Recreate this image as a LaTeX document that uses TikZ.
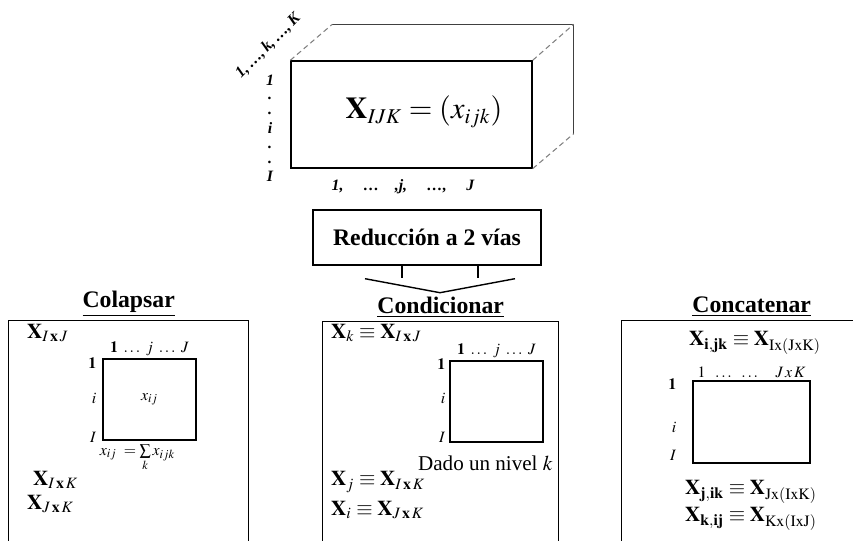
\documentclass[tikz,border=0pt]{standalone}
\usepackage{mathptmx}
\usepackage{fontspec}
\setmainfont{Liberation Serif}
\usetikzlibrary{positioning}

\begin{document}
\begin{tikzpicture}[
  x=0.02cm, y=-0.02cm, % one unit = one pixel of the sketch, y downwards
  edge/.style={draw, line width=0.8pt},
  backedge/.style={draw=black!75, line width=0.6pt},
  hidden/.style={draw=black!50, line width=0.6pt, densely dashed},
  panel/.style={draw, line width=0.8pt, anchor=north west, minimum height=4.8cm, inner sep=0pt},
  matbox/.style={draw, line width=0.8pt, inner sep=0pt, minimum width=1.86cm, minimum height=1.62cm, font=\small},
  paneltitle/.style={font=\fontsize{13.5}{16}\selectfont\bfseries, inner sep=1pt},
  cubelbl/.style={font=\small\bfseries\itshape, inner sep=1pt},
  lbl/.style={font=\small, inner sep=1pt},
  formula/.style={font=\large, inner sep=1pt, anchor=west}
]
\useasboundingbox (0,0) rectangle (853,541);

% --- Top: three-way array ---
\node[edge, minimum width=4.82cm, minimum height=2.14cm, inner sep=0pt] (front) at (411.5,114.5) {};
\node[font=\LARGE] (tensor) at (424,112) {$\mathbf{X}_{IJK}=(x_{ijk})$};

\coordinate (backNW) at ([shift={(42,-36)}]front.north west);
\coordinate (backNE) at ([shift={(41,-36)}]front.north east);
\coordinate (backSE) at ([shift={(41,-35)}]front.south east);
\draw[backedge] (backNW) -- (backNE) -- (backSE);
\draw[hidden] (front.north west) -- (backNW);
\draw[hidden] (front.north east) -- (backNE);
\draw[hidden] (front.south east) -- (backSE);

% row, column and depth indices
\foreach \t/\y in {1/80, ./98, ./113, i/128, ./147, ./162, I/176}
  \node[cubelbl] at (270,\y) {\t};
\node[cubelbl] (cols) at (403,187) {1,\quad\ \ldots\quad ,j,\quad\ \ldots,\quad\ J};
\node[cubelbl, rotate=45] (depth) at (268,46) {1,\,\ldots,\,k,\,\ldots,\,K};

% --- Middle: reduction step ---
\node[edge, minimum width=4.56cm, minimum height=1.1cm, font=\fontsize{13.5}{16}\selectfont\bfseries] (reduc) at (427,237.5) {Reducción a 2 vías};
\coordinate (tip) at ([shift={(13,27)}]reduc.south);
\draw[edge] ([shift={(-25,0)}]reduc.south) -- ++(0,12);
\draw[edge] ([shift={(51,0)}]reduc.south) -- ++(0,12);
\draw[edge] ([shift={(-62,13)}]reduc.south) -- (tip) -- ([shift={(88,13)}]reduc.south);

% --- Bottom: the three panels ---
\node[panel, minimum width=4.8cm] (colBox) at (8,320) {};
\node[panel, minimum width=4.72cm] (condBox) at (322,321) {};
\node[panel, minimum width=5.2cm] (concBox) at (621,320) {};

\node[paneltitle, above=0.5pt of colBox.north] (colTitle) {\underline{Colapsar}};
\node[paneltitle, above=0.5pt of condBox.north] (condTitle) {\underline{Condicionar}};
\node[paneltitle, above=0.5pt of concBox.north] (concTitle) {\underline{Concatenar}};

% Colapsar
\node[formula] at (25,333) {$\mathbf{X}_{I\,\mathbf{x}\,J}$};
\node[matbox] (colSq) at (149.5,399.5) {$x_{ij}$};
\node[lbl, anchor=south] at (colSq.north) {$\mathbf{1}\ \ldots\ j\ \ldots\ J$};
\node[lbl, anchor=east] at ([shift={(-4,5)}]colSq.north west) {$\mathbf{1}$};
\node[lbl, anchor=east] at ([shift={(-4,-1)}]colSq.west) {$i$};
\node[lbl, anchor=east] at ([shift={(-4,-3)}]colSq.south west) {$I$};
\node[lbl, below=1pt of colSq, xshift=-0.24cm] {$x_{ij}\;=\sum\limits_k x_{ijk}$};
\node[formula] at (31,480) {$\mathbf{X}_{I\,\mathbf{x}\,K}$};
\node[formula] at (25,504) {$\mathbf{X}_{J\,\mathbf{x}\,K}$};

% Condicionar
\node[formula] at (329,333) {$\mathbf{X}_k\equiv\mathbf{X}_{I\,\mathbf{x}\,J}$};
\node[matbox] (condSq) at (496.5,401.5) {};
\node[lbl, anchor=south] at (condSq.north) {$\mathbf{1}\ \ldots\ j\ \ldots\ J$};
\node[lbl, anchor=east] at ([shift={(-2,4)}]condSq.north west) {$\mathbf{1}$};
\node[lbl, anchor=east] at ([shift={(-2,-3)}]condSq.west) {$i$};
\node[lbl, anchor=east] at ([shift={(-2,-5)}]condSq.south west) {$I$};
\node[lbl, font=\large, anchor=north east] at ([shift={(11,11)}]condSq.south east) {Dado un nivel $k$};
\node[formula] at (329,482) {$\mathbf{X}_j\equiv\mathbf{X}_{I\,\mathbf{x}\,K}$};
\node[formula] at (329,510) {$\mathbf{X}_i\equiv\mathbf{X}_{J\,\mathbf{x}\,K}$};

% Concatenar
\node[font=\large, inner sep=1pt] at (755,343) {$\mathbf{X}_{\mathbf{i,jk}}\equiv\mathbf{X}_{\mathrm{Ix(JxK)}}$};
\node[matbox, minimum width=2.34cm, minimum height=1.64cm] (concSq) at (751.5,422) {};
\node[lbl, anchor=south] at (concSq.north) {$1\ \ \ldots\ \ \ldots\quad J\,x\,K$};
\node[lbl, anchor=east] at ([shift={(-14,4)}]concSq.north west) {$\mathbf{1}$};
\node[lbl, anchor=east] at ([shift={(-14,5)}]concSq.west) {$i$};
\node[lbl, anchor=east] at ([shift={(-14,-8)}]concSq.south west) {$I$};
\node[font=\large, inner sep=1pt] at (751,492) {$\mathbf{X}_{\mathbf{j,ik}}\equiv\mathbf{X}_{\mathrm{Jx(IxK)}}$};
\node[font=\large, inner sep=1pt] at (751,519) {$\mathbf{X}_{\mathbf{k,ij}}\equiv\mathbf{X}_{\mathrm{Kx(IxJ)}}$};

\end{tikzpicture}
\end{document}
